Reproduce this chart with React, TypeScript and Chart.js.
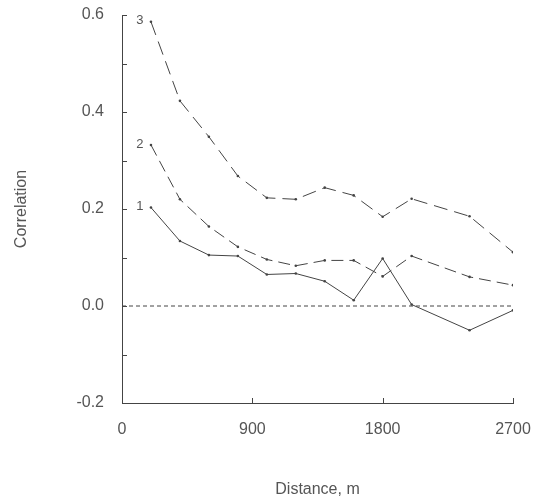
import React, { useEffect, useRef } from "react";
import { Chart, registerables } from "chart.js";

Chart.register(...registerables);

const distances = [200, 400, 600, 800, 1000, 1200, 1400, 1600, 1800, 2000, 2400, 2700];
const series1 = [0.203, 0.134, 0.105, 0.103, 0.065, 0.067, 0.051, 0.012, 0.098, 0.003, -0.05, -0.009];
const series2 = [0.332, 0.22, 0.164, 0.122, 0.096, 0.083, 0.094, 0.094, 0.061, 0.103, 0.06, 0.043];
const series3 = [0.586, 0.423, 0.349, 0.268, 0.223, 0.22, 0.244, 0.228, 0.184, 0.221, 0.185, 0.111];
const seriesNames = ["1", "2", "3"];
const zeroLineX = [0, 2700];
const zeroLineY = [0, 0];
const yTickMarks = [-0.2, -0.1, 0, 0.1, 0.2, 0.3, 0.4, 0.5, 0.6];
const xTickMarks = [900, 1800, 2700];

const INK = "#444";
const TEXT = "#555";
const FONT = "'Liberation Sans', Arial, sans-serif";

const toPts = (xs: number[], ys: number[]) => xs.map((x, i) => ({ x, y: ys[i] }));

const decorPlugin = {
  id: "decor",
  afterDatasetsDraw(chart: any) {
    const { ctx, chartArea, scales } = chart;
    const xs = scales.x;
    const ys = scales.y;
    ctx.save();
    ctx.strokeStyle = INK;
    ctx.lineWidth = 1;
    ctx.beginPath();
    yTickMarks.forEach((v) => {
      const py = Math.round(ys.getPixelForValue(v)) + 0.5;
      ctx.moveTo(chartArea.left, py);
      ctx.lineTo(chartArea.left + 5, py);
    });
    xTickMarks.forEach((v) => {
      const px = Math.round(xs.getPixelForValue(v)) + 0.5;
      ctx.moveTo(px, chartArea.bottom);
      ctx.lineTo(px, chartArea.bottom - 5);
    });
    ctx.stroke();

    ctx.fillStyle = TEXT;
    ctx.font = `13px ${FONT}`;
    ctx.textAlign = "center";
    ctx.textBaseline = "middle";
    [0, 1, 2].forEach((i) => {
      const meta = chart.getDatasetMeta(i);
      const p = meta.data[0];
      ctx.fillText(seriesNames[i], p.x - 11, p.y - 1);
    });
    ctx.restore();
  },
};

export default function App() {
  const ref = useRef<HTMLCanvasElement>(null);
  useEffect(() => {
    if (!ref.current) return;
    const lineDs = (data: number[], dash: number[]) => ({
      data: toPts(distances, data),
      borderColor: INK,
      borderWidth: 1,
      borderDash: dash,
      pointRadius: 1.3,
      pointBackgroundColor: INK,
      pointBorderWidth: 0,
      fill: false,
      tension: 0,
    });
    const chart = new Chart(ref.current, {
      type: "line",
      data: {
        datasets: [
          lineDs(series1, []),
          lineDs(series2, [12, 6]),
          lineDs(series3, [14, 7]),
          {
            data: toPts(zeroLineX, zeroLineY),
            borderColor: INK,
            borderWidth: 1,
            borderDash: [4, 3],
            pointRadius: 0,
            fill: false,
          },
        ],
      },
      options: {
        responsive: false,
        animation: false,
        events: [],
        layout: { padding: { top: 15, right: 21, left: 0, bottom: 0 } },
        plugins: { legend: { display: false }, tooltip: { enabled: false } },
        scales: {
          x: {
            type: "linear",
            min: 0,
            max: 2700,
            grid: { display: false, drawTicks: false },
            border: { display: true, color: INK, width: 1 },
            ticks: {
              stepSize: 900,
              padding: 17,
              color: TEXT,
              font: { family: FONT, size: 16 },
              maxRotation: 0,
              callback: (v: any) => String(v),
            },
            title: {
              display: true,
              text: "Distance, m",
              color: TEXT,
              font: { family: FONT, size: 16 },
              padding: { top: 0, bottom: 2.4 },
            },
            afterFit: (s: any) => {
              s.height = 99;
              s.paddingLeft = 0;
              s.paddingRight = 0;
              s.paddingTop = 0;
              s.paddingBottom = 0;
            },
          },
          y: {
            type: "linear",
            min: -0.2,
            max: 0.6,
            grid: { display: false, drawTicks: false },
            border: { display: true, color: INK, width: 1 },
            ticks: {
              stepSize: 0.2,
              padding: 18,
              color: TEXT,
              font: { family: FONT, size: 16 },
              callback: (v: any) => Number(v).toFixed(1),
            },
            title: {
              display: true,
              text: "Correlation",
              color: TEXT,
              font: { family: FONT, size: 16 },
              padding: { top: 12.4, bottom: 0 },
            },
            afterFit: (s: any) => {
              s.width = 122;
              s.paddingLeft = 0;
              s.paddingRight = 0;
              s.paddingTop = 0;
              s.paddingBottom = 0;
            },
          },
        },
      },
      plugins: [decorPlugin],
    } as any);
    return () => chart.destroy();
  }, []);
  return (
    <div style={{ position: "fixed", left: 0, top: 0, width: 534, height: 502, background: "#fff" }}>
      <canvas ref={ref} width={534} height={502} style={{ display: "block" }} />
    </div>
  );
}
